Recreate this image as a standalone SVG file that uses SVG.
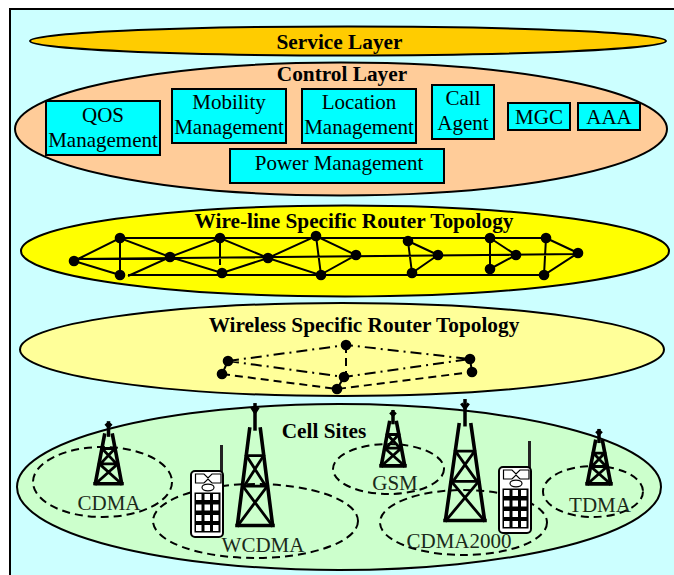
<svg xmlns="http://www.w3.org/2000/svg" width="674" height="575" viewBox="0 0 674 575">
<style>
text{font-family:"Liberation Serif","Times New Roman",serif;fill:#000;text-anchor:middle}
.t{font-size:21.3px;font-weight:bold}
.b{font-size:21px}
.s{font-size:21px;fill:#1a2a1a}
.l{stroke:#000;stroke-width:2;fill:none}
.box{fill:#0ff;stroke:#000;stroke-width:2}
.e{stroke:#000;stroke-width:2}
.dd{stroke:#000;stroke-width:2;fill:none;stroke-dasharray:11 5 2 5}
.da{stroke:#000;stroke-width:2;fill:none;stroke-dasharray:8 5}
.v{vector-effect:non-scaling-stroke;stroke:#000;fill:none;stroke-linecap:square}
.k{fill:#fff}
</style>
<defs>
<circle id="n" r="5.3" fill="#000"/>
<g id="tower">
<path class="v" d="M35 22 1 98M65 22 99 98M0 98H100" stroke-width="3.600"/>
<path class="v" d="M26 43H74M16 67H84M26 43 80 67M74 43 20 67M16 67 95 97M84 67 5 97" stroke-width="2.800"/>
<path class="v" d="M50 3V22" stroke-width="3.500"/>
<path class="v" d="M43 6 50 9 57 6" stroke-width="3"/>
</g>
<g id="phone">
<path d="M30.500 -26V2" stroke="#222" stroke-width="3" fill="none"/>
<rect x="0" y="0" width="32" height="66" rx="4" fill="#fff" stroke="#000" stroke-width="2"/>
<path d="M4.500 3H13L17 7 21 3H30V12H21L17 8 13 12H4.500Z" fill="#fff" stroke="#000" stroke-width="1.200"/>
<ellipse cx="17" cy="16.500" rx="6" ry="3.400" fill="#fff" stroke="#000" stroke-width="1.200"/>
<rect x="3.500" y="21.500" width="26" height="40" fill="#000"/>
<rect class="k" x="5" y="23" width="5.500" height="6"/><rect class="k" x="13.500" y="23" width="5.500" height="6"/><rect class="k" x="22" y="23" width="5.500" height="6"/>
<rect class="k" x="5" y="33.500" width="5.500" height="6"/><rect class="k" x="13.500" y="33.500" width="5.500" height="6"/><rect class="k" x="22" y="33.500" width="5.500" height="6"/>
<rect class="k" x="5" y="44" width="5.500" height="6"/><rect class="k" x="13.500" y="44" width="5.500" height="6"/><rect class="k" x="22" y="44" width="5.500" height="6"/>
<rect class="k" x="5" y="54" width="5.500" height="6"/><rect class="k" x="13.500" y="54" width="5.500" height="6"/><rect class="k" x="22" y="54" width="5.500" height="6"/>
</g>
</defs>
<rect width="674" height="575" fill="#fff"/>
<rect x="10" y="9" width="670" height="580" fill="#ccffff" stroke="#000" stroke-width="2"/>

<g id="service-layer">
<ellipse class="e" cx="348" cy="41" rx="318" ry="14.500" fill="#ffcc00"/>
<text class="t" x="339.500" y="48.500">Service Layer</text>
</g>
<g id="control-layer">
<ellipse class="e" cx="341" cy="129" rx="326" ry="66.500" fill="#ffcc99"/>
<text class="t" x="342" y="81">Control Layer</text>
</g>
<g id="qos"><rect class="box" x="46" y="101" width="114" height="54"/><text class="b" x="103" y="122">QOS</text><text class="b" x="103" y="147">Management</text></g>
<g id="mobility"><rect class="box" x="172" y="89" width="114" height="54"/><text class="b" x="229" y="109">Mobility</text><text class="b" x="229" y="134">Management</text></g>
<g id="location"><rect class="box" x="302" y="89" width="114" height="54"/><text class="b" x="359" y="109">Location</text><text class="b" x="359" y="134">Management</text></g>
<g id="call-agent"><rect class="box" x="432" y="85" width="62" height="54"/><text class="b" x="463" y="105">Call</text><text class="b" x="463" y="130">Agent</text></g>
<g id="mgc"><rect class="box" x="508" y="103" width="62" height="27"/><text class="b" x="539" y="124">MGC</text></g>
<g id="aaa"><rect class="box" x="578" y="103" width="62" height="27"/><text class="b" x="609" y="124">AAA</text></g>
<g id="power"><rect class="box" x="230" y="149" width="214" height="34"/><text class="b" x="339" y="170">Power Management</text></g>

<g id="wireline-layer">
<ellipse class="e" cx="345" cy="251" rx="324" ry="45.500" fill="#ffff00"/>
<text class="t" x="354" y="228">Wire-line Specific Router Topology</text>
</g>
<g id="wireline-connectors">
<path class="l" d="M120 238H546M128 275H544M74 259 578 254M74 261 120 238 170 257 220 238 268 258 316 236 356 255 320 275 268 258 222 273 170 257 128 276M74 261 120 275M120 238V275M220 238V265M316 236 321 275M408 241 438 255 412 273ZM490 238 516 255 490 269ZM546 238 578 253 544 275Z"/>
</g>
<g id="wireline-routers">
<use href="#n" x="74" y="261"/><use href="#n" x="120" y="238"/><use href="#n" x="120" y="275"/><use href="#n" x="170" y="257"/><use href="#n" x="220" y="238"/><use href="#n" x="222" y="273"/><use href="#n" x="268" y="258"/><use href="#n" x="316" y="236"/><use href="#n" x="321" y="275"/><use href="#n" x="356" y="255"/><use href="#n" x="408" y="241"/><use href="#n" x="438" y="255"/><use href="#n" x="412" y="273"/><use href="#n" x="490" y="238"/><use href="#n" x="516" y="255"/><use href="#n" x="490" y="269"/><use href="#n" x="546" y="238"/><use href="#n" x="578" y="253"/><use href="#n" x="544" y="275"/>
</g>

<g id="wireless-layer">
<ellipse class="e" cx="342" cy="349.500" rx="322" ry="46.500" fill="#ffff99"/>
<text class="t" x="364" y="332">Wireless Specific Router Topology</text>
</g>
<g id="wireless-connectors">
<path class="dd" d="M228 361 346 345 470 359M228 361 344 377 470 359"/>
<path class="da" d="M346 345V377M222 374 337 389 472 372"/>
<path class="l" d="M228 361 222 374M344 377 337 389M470 359 472 372"/>
</g>
<g id="wireless-routers">
<use href="#n" x="346" y="345"/><use href="#n" x="228" y="361"/><use href="#n" x="222" y="374"/><use href="#n" x="344" y="377"/><use href="#n" x="337" y="389"/><use href="#n" x="470" y="359"/><use href="#n" x="472" y="372"/>
</g>

<g id="cell-sites">
<ellipse class="e" cx="339" cy="487" rx="322" ry="83" fill="#ccffcc"/>
<text class="t" x="324" y="438">Cell Sites</text>
</g>
<g id="cdma"><ellipse class="da" cx="102.500" cy="482" rx="69.500" ry="35"/><text class="s" x="109" y="510">CDMA</text>
<use href="#tower" transform="translate(95 421) scale(.27 .64)"/></g>
<g id="wcdma"><ellipse class="da" cx="255.500" cy="521" rx="102.500" ry="37"/><text class="s" x="263" y="552">WCDMA</text>
<use href="#tower" transform="translate(237 401) scale(.36 1.27)"/>
<use href="#phone" x="191" y="471"/></g>
<g id="gsm"><ellipse class="da" cx="388.500" cy="469" rx="55.500" ry="25"/><text class="s" x="395" y="490">GSM</text>
<use href="#tower" transform="translate(381 410) scale(.24 .57)"/></g>
<g id="cdma2000"><ellipse class="da" cx="463.500" cy="522.500" rx="83.500" ry="32.500"/><text class="s" x="459" y="548">CDMA2000</text>
<use href="#tower" transform="translate(445 397) scale(.4 1.26)"/>
<use href="#phone" x="499" y="467"/></g>
<g id="tdma"><ellipse class="da" cx="593" cy="491.500" rx="50" ry="25.500"/><text class="s" x="600" y="512">TDMA</text>
<use href="#tower" transform="translate(587 429) scale(.24 .56)"/></g>
</svg>
